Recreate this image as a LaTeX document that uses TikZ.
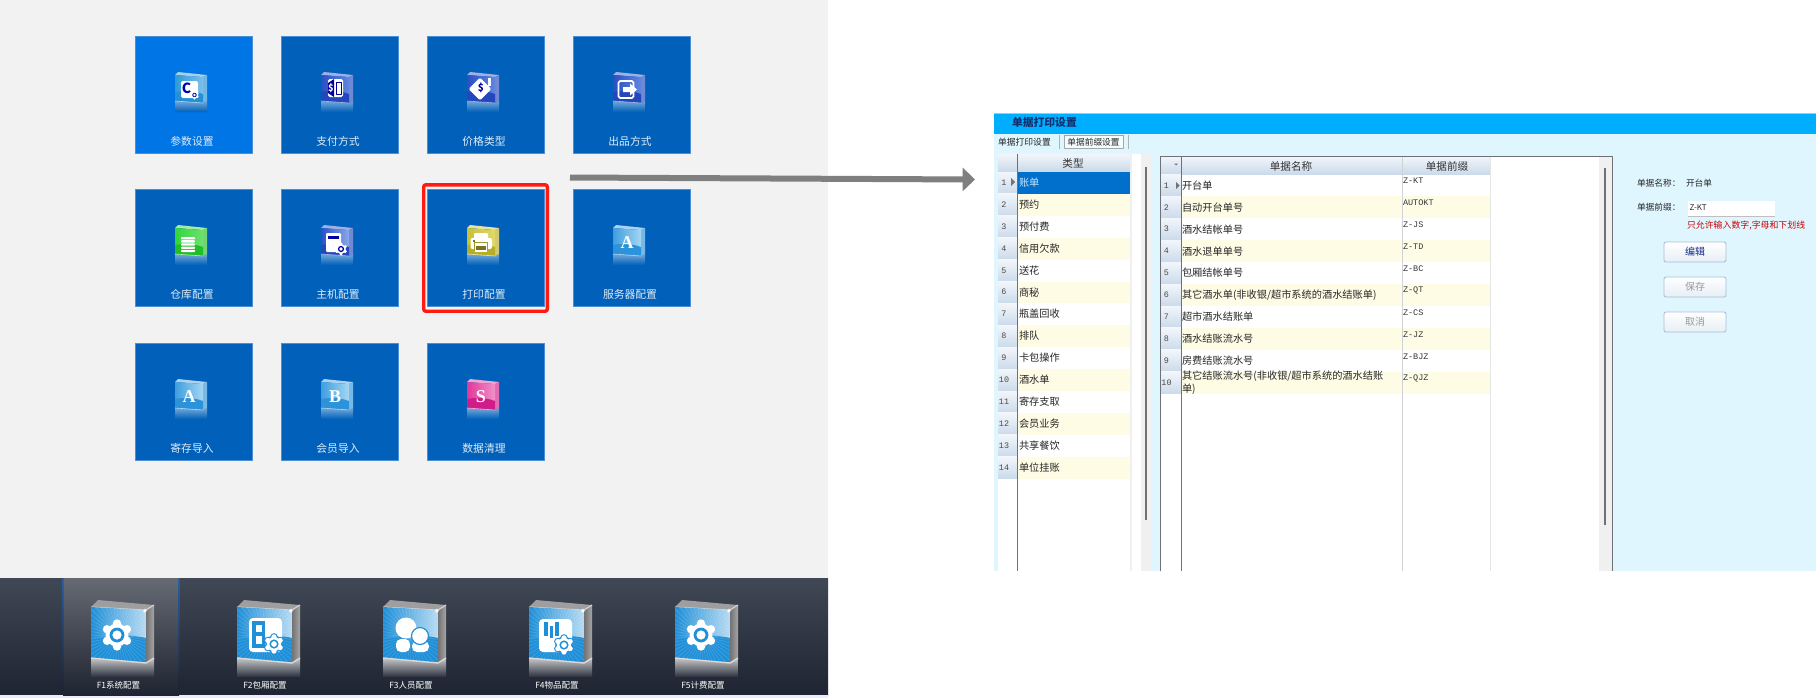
\documentclass[tikz,border=0pt]{standalone}
\usepackage{fontspec}
\setmainfont{Noto Sans CJK SC}
\newfontfamily\monof{Liberation Mono}
\newfontfamily\serf{Liberation Serif}
\usetikzlibrary{arrows.meta}
\definecolor{pagebg}{HTML}{F2F2F2}
\definecolor{tilefill}{HTML}{0060BA}
\definecolor{tileactive}{HTML}{0075E6}
\definecolor{tileedge}{HTML}{4A8FD6}
\definecolor{panelbg}{HTML}{DFF6FF}
\definecolor{titlebg}{HTML}{00AEFF}
\definecolor{cream}{HTML}{FFFCE6}
\definecolor{selblue}{HTML}{0070CC}
\definecolor{iconblue}{HTML}{1F8FD8}
\definecolor{bandtop}{HTML}{414855}
\definecolor{bandmid}{HTML}{2A303E}
\definecolor{bandbot}{HTML}{1E2431}
\definecolor{hilite}{HTML}{666A73}
\definecolor{hiedge}{HTML}{2A5FA5}
\definecolor{markred}{HTML}{FF1A12}
\definecolor{arrowgray}{HTML}{7F7F7F}
\definecolor{gridline}{HTML}{D0D3D6}
\definecolor{darkline}{HTML}{6E7276}
\definecolor{hdrtop}{HTML}{F2F6FB}
\definecolor{hdrbot}{HTML}{CBDAEA}
\definecolor{btnedge}{HTML}{A8BFD8}
\definecolor{btnbot}{HTML}{E6EEF5}
\definecolor{titletext}{HTML}{12306E}
\definecolor{navytext}{HTML}{1A2A8A}
\definecolor{icAa}{HTML}{2F9AD8}\definecolor{icAb}{HTML}{7CC0EA}\definecolor{icAc}{HTML}{2490D6}
\definecolor{icBa}{HTML}{2A4FC4}\definecolor{icBb}{HTML}{5F86E0}\definecolor{icBc}{HTML}{2448BC}\definecolor{icBd}{HTML}{8AA8EA}
\definecolor{icGa}{HTML}{30D638}\definecolor{icGb}{HTML}{6FE070}\definecolor{icGc}{HTML}{22BE2A}
\definecolor{icYa}{HTML}{C9C038}\definecolor{icYb}{HTML}{E0D868}\definecolor{icYc}{HTML}{B8AE26}
\definecolor{icSa}{HTML}{3F9EDF}\definecolor{icSb}{HTML}{A5D6F2}\definecolor{icSc}{HTML}{2C92DA}
\definecolor{icPa}{HTML}{E0389A}\definecolor{icPb}{HTML}{F090C8}\definecolor{icPc}{HTML}{D01C88}
\newcommand{\pxf}[1]{\fontsize{#1}{#1}\selectfont}
\tikzset{
  txt/.style={inner sep=0pt,outer sep=0pt},
  tilelabel/.style={txt,text=white!88!tilefill,font=\pxf{5.4}},
  biglabel/.style={txt,text=white,font=\pxf{4.25}},
  rowtext/.style={txt,anchor=west,text=black!85,font=\pxf{5.1},align=left},
  rownum/.style={txt,text=black!70,font=\monof\pxf{4.2}},
  prefixtext/.style={txt,anchor=west,text=black!80,font=\monof\pxf{4.25}},
  coltitle/.style={txt,text=black!80,font=\pxf{5.3}},
  formtext/.style={txt,anchor=west,text=black!85,font=\pxf{4.35}},
  btn/.style={draw=btnedge,rounded corners=1pt,line width=.45pt,top color=white,bottom color=btnbot},
  rowhead/.style={top color=hdrtop,bottom color=hdrbot},
}
% small tile: #1 colour, #2 name, #3 x, #4 y, #5 label
\newcommand{\tile}[5]{%
  \begin{scope}[shift={(#3,#4)}]
    \draw[fill=#1,draw=tileedge,line width=.3pt] (0,0) rectangle (117,117);
    \node[tilelabel] (#2) at (57,105) {#5};
  \end{scope}}
% small icon: #1 x, #2 y, #3 left colour, #4 right colour, #5 lower colour, #6 content
\newcommand{\smicon}[6]{%
  \begin{scope}[shift={(#1,#2)}]
    \shade[top color=white!45!tilefill,bottom color=tilefill] (40,65)--(68,67)--(72,65)--(72,76)--(40,76)--cycle;
    \fill[white!55!#3] (40,39)--(43,36)--(72,39)--(68,41)--cycle;
    \fill[white!35!#5] (68,41)--(72,39)--(72,65)--(68,67)--cycle;
    \shade[left color=#3,right color=#4] (40,39)--(68,41)--(68,67)--(40,65)--cycle;
    \fill[#5] (40,56)..controls (50,54) and (60,55)..(68,58)--(68,67)--(40,65)--cycle;
    \draw[white!60!#3,line width=.3pt] (40,65)--(68,67);
    #6
  \end{scope}}
\newcommand{\gearmark}[4]{% x y scale hole colour
  \begin{scope}[shift={(#1,#2)},scale=#3]
    \fill[white] (0,0) circle (11.5);
    \foreach \a in {30,90,...,330} {\fill[white] (\a:11.5) circle (4.2);}
    \fill[#4] (0,0) circle (7.4);
    \fill[white] (0,0) circle (4.6);
  \end{scope}}
% gear on a card: coloured halo, then the gear
\newcommand{\cardgear}[3]{%
  \begin{scope}[shift={(#1,#2)},scale=#3]
    \fill[iconblue] (0,0) circle (14);
    \foreach \a in {30,90,...,330} {\fill[iconblue] (\a:11.5) circle (6);}
  \end{scope}
  \gearmark{#1}{#2}{#3}{iconblue}}
% big icon: #1 x of the left edge, #2 content in coordinates of the F1 icon
\newcommand{\bigicon}[2]{%
  \begin{scope}[shift={(#1-91,0)}]
    \shade[top color=black!22!white,bottom color=bandmid] (91,658)--(146,663)--(154,658)--(154,677)--(91,677)--cycle;
    \fill[black!38!white] (91,607)--(98,600)--(154,605)--(146,610)--cycle;
    \shade[left color=black!55!white,right color=black!35!white] (146,610)--(154,605)--(154,658)--(146,663)--cycle;
    \draw[white!85!black,line width=.5pt] (91,607)--(146,610)--(154,605);
    \begin{scope}
      \clip (91,607)--(146,610)--(146,663)--(91,658)--cycle;
      \shade[left color=iconblue,right color=white!68!iconblue] (91,604) rectangle (146,640);
      \fill[iconblue] (91,640)..controls (108,635) and (130,634)..(146,638)--(146,665)--(91,665)--cycle;
      \foreach \a in {0,7,...,353} {\draw[white,opacity=.14,line width=.35pt] (119,636)--++(\a:50);}
    \end{scope}
    \draw[white!85!black,line width=.7pt] (91,658)--(146,663)--(154,658);
    \fill[white] (145,608.5)--(145.8,610)--(147.3,610.8)--(145.8,611.6)--(145,613)--(144.2,611.6)--(142.7,610.8)--(144.2,610)--cycle;
    #2
  \end{scope}}
\begin{document}
\begin{tikzpicture}[x=.5pt,y=-.5pt,line join=round]
\useasboundingbox (0,0) rectangle (1816,698);
\fill[white] (0,0) rectangle (1816,698);
% left screen
\fill[pagebg] (0,0) rectangle (828,578);
\shade[top color=bandtop,middle color=bandmid,bottom color=bandbot] (0,578) rectangle (828,695);
\fill[blue!8!white] (0,695) rectangle (828,698);
\shade[top color=hilite,bottom color=bandbot] (63,578) rectangle (179,695);
\shade[top color=hiedge,bottom color=bandbot] (62.7,578) rectangle (63.5,690);
\shade[top color=hiedge,bottom color=bandbot] (178.5,578) rectangle (179.3,690);
% tiles
\tile{tileactive}{tA}{135}{36}{参数设置}
\tile{tilefill}{tB}{281}{36}{支付方式}
\tile{tilefill}{tC}{427}{36}{价格类型}
\tile{tilefill}{tD}{573}{36}{出品方式}
\tile{tilefill}{tE}{135}{189}{仓库配置}
\tile{tilefill}{tF}{281}{189}{主机配置}
\tile{tilefill}{tG}{427}{189}{打印配置}
\tile{tilefill}{tH}{573}{189}{服务器配置}
\tile{tilefill}{tI}{135}{343}{寄存导入}
\tile{tilefill}{tJ}{281}{343}{会员导入}
\tile{tilefill}{tK}{427}{343}{数据清理}
% small icons
\smicon{135}{36}{icAa}{icAb}{icAc}{
  \fill[white,rounded corners=.8pt] (46,45) rectangle (63,62);
  \node[txt,text=blue!70!black,font=\bfseries\pxf{7}] (iconC) at (51.5,52) {C};
  \gearmark{59.5}{59}{.3}{blue!70!black}}
\smicon{281}{36}{icBa}{icBb}{icBc}{
  \fill[white,rounded corners=.8pt] (47,43) rectangle (62,61);
  \fill[blue!60!black] (47,47)--(53,43)--(53,61)--(47,57)--cycle;
  \node[txt,text=white,font=\bfseries\pxf{4.6}] (iconD) at (50,52) {\$};
  \draw[blue!60!black,line width=.5pt] (55,46) rectangle (60,58);}
\smicon{427}{36}{icBa}{icBb}{icBc}{
  \fill[white,rounded corners=.6pt,rotate around={45:(53,53)}] (45,45) rectangle (61,61);
  \fill[white] (61,42) rectangle (64,50);
  \node[txt,text=blue!65!black,font=\bfseries\pxf{5}] (iconE) at (54,52) {\$};}
\smicon{573}{36}{icBa}{icBb}{icBc}{
  \draw[white,line width=.9pt,rounded corners=.8pt] (45.5,45) rectangle (60.5,62);
  \fill[white] (50,51)--(57,51)--(57,47.5)--(64,53.5)--(57,59.5)--(57,56)--(50,56)--cycle;}
\smicon{135}{189}{icGa}{icGb}{icGc}{
  \foreach \yy in {48,51.2,54.4,57.6,60.8} {\fill[white,rounded corners=.4pt] (46,\yy) rectangle (60,\yy+2.3);}}
\smicon{281}{189}{icBa}{icBd}{icBc}{
  \fill[white,rounded corners=.6pt] (45,44) rectangle (60,63);
  \fill[blue!65!black] (47,47) rectangle (58,49.5);
  \gearmark{60}{60}{.42}{blue!65!black}}
\smicon{427}{189}{icYa}{icYb}{icYc}{
  \fill[white,rounded corners=.5pt] (47,44) rectangle (61,50);
  \fill[white,rounded corners=1pt] (43.5,49) rectangle (65,60);
  \fill[icYa!80!black] (47,53) rectangle (61,61);
  \fill[white] (48,54) rectangle (60,63);
  \fill[icYa!60!black] (49,56.5) rectangle (59,61);
  \fill[icYa!60!black] (45.5,51) rectangle (47.5,52.5);}
\smicon{573}{189}{icSa}{icSb}{icSc}{
  \node[txt,text=white,font=\serf\bfseries\pxf{9}] (iconA) at (54,54) {A};}
\smicon{135}{343}{icSa}{icSb}{icSc}{
  \node[txt,text=white,font=\serf\bfseries\pxf{9}] (iconI) at (54,54) {A};}
\smicon{281}{343}{icSa}{icSb}{icSc}{
  \node[txt,text=white,font=\serf\bfseries\pxf{9}] (iconJ) at (54,53.5) {B};}
\smicon{427}{343}{icPa}{icPb}{icPc}{
  \node[txt,text=white,font=\serf\bfseries\pxf{9}] (iconK) at (54,54) {S};}
% selection mark and arrow
\node[draw=markred,line width=1.7pt,rounded corners=1pt,minimum width=61.8pt,minimum height=63.2pt,inner sep=0pt] (printmark) at (485.5,248) {};
\coordinate (arrowfrom) at (570,177.5);
\coordinate (arrowto) at (975,179.5);
\draw[arrowgray,line width=3pt,-{Triangle[length=6.2pt,width=11.5pt]}] (arrowfrom)--(arrowto);
% bottom bar icons
\bigicon{91}{\gearmark{117}{635}{1}{iconblue}}
\bigicon{237}{
  \fill[white,rounded corners=2pt] (103,618) rectangle (136,652);
  \fill[iconblue] (106,621) rectangle (119,648);
  \fill[white] (110,624.5) rectangle (116,632);
  \fill[white] (110,636) rectangle (116,644);
  \cardgear{128}{644}{.62}}
\bigicon{383}{
  \fill[white,rounded corners=2.5pt] (104,639) rectangle (118,652);
  \fill[white] (114,628) circle (10.5);
  \fill[white,rounded corners=2.5pt] (120,641) rectangle (137,652);
  \draw[fill=white,draw=iconblue,line width=.6pt] (128,636) circle (8.5);}
\bigicon{529}{
  \fill[white,rounded corners=2pt] (101,619) rectangle (134,652);
  \fill[iconblue] (106,622) rectangle (109.5,636);
  \fill[iconblue] (112,626) rectangle (115,638);
  \fill[iconblue] (117,622) rectangle (120.5,636);
  \cardgear{126}{645}{.62}}
\bigicon{675}{\gearmark{117}{635}{1}{iconblue}}
\node[biglabel] (f1) at (118.5,685) {F1系统配置};
\node[biglabel] (f2) at (265,685) {F2包厢配置};
\node[biglabel] (f3) at (411,685) {F3人员配置};
\node[biglabel] (f4) at (557,685) {F4物品配置};
\node[biglabel] (f5) at (703,685) {F5计费配置};
% right window
\fill[panelbg] (994,134) rectangle (1816,571);
\fill[titlebg] (994,113) rectangle (1816,134);
\fill[black!25!white] (994,112.5) rectangle (1816,113.5);
\node[txt,anchor=west,text=titletext,font=\bfseries\pxf{5.4}] (wintitle) at (1012,122) {单据打印设置};
\node[txt,anchor=west,text=black!85,font=\pxf{4.4}] (tabA) at (998,142) {单据打印设置};
\draw[black!30!white,line width=.4pt] (1059,135)--(1059,149);
\node[draw=black!35!white,line width=.35pt,fill=white!70!panelbg,txt,minimum width=29.5pt,minimum height=6.8pt,text=black!85,font=\pxf{4.35}] (tabB) at (1093.5,142) {单据前缀设置};
\draw[black!30!white,line width=.4pt] (1128,135)--(1128,149);
% left table
\fill[white] (998,154) rectangle (1141,571);
\fill[black!6!white] (1141,154) rectangle (1152,571);
\fill[black!6!white] (1130,154) rectangle (1131.5,571);
\shade[rowhead] (998,154) rectangle (1130,171);
\node[coltitle] (typehead) at (1073,163) {类型};
\foreach \i/\t in {1/账单,2/预约,3/预付费,4/信用欠款,5/送花,6/商秘,7/瓶盖回收,8/排队,9/卡包操作,10/酒水单,11/寄存支取,12/会员业务,13/共享餐饮,14/单位挂账}{
  \pgfmathsetmacro{\yt}{172+(\i-1)*21.9}
  \pgfmathsetmacro{\yb}{\yt+21.9}
  \pgfmathsetmacro{\yc}{\yt+10.7}
  \pgfmathparse{int(mod(\i,2))}
  \ifnum\pgfmathresult=0 \fill[cream] (1018,\yt) rectangle (1130,\yb);\fi
  \ifnum\i=1 \fill[selblue] (1018,\yt) rectangle (1130,\yb);\fi
  \shade[rowhead] (998,\yt) rectangle (1017.5,\yb);
  \node[rownum] (ln\i) at (1004,\yc) {\i};
  \ifnum\i=1
    \node[rowtext,text=white!80!selblue] (lr\i) at (1019,\yc) {\t};
  \else
    \node[rowtext] (lr\i) at (1019,\yc) {\t};
  \fi
}
\fill[black!55!white] (1011,178)--(1015,182)--(1011,186)--cycle;
\draw[darkline,line width=.4pt] (1017.7,154)--(1017.7,571);
\draw[darkline,line width=.7pt] (1146,167)--(1146,520);
% right table
\fill[white] (1160,156) rectangle (1612,571);
\fill[black!6!white] (1599,156) rectangle (1612,571);
\shade[rowhead] (1160,156) rectangle (1490,174);
\fill[black!55!white] (1174,163.5)--(1178,163.5)--(1176,165.5)--cycle;
\node[coltitle] (namehead) at (1291,166) {单据名称};
\node[coltitle] (prefhead) at (1447,166) {单据前缀};
\foreach \i/\t/\p in {1/开台单/Z-KT,2/自动开台单号/AUTOKT,3/酒水结帐单号/Z-JS,4/酒水退单单号/Z-TD,5/包厢结帐单号/Z-BC,6/{其它酒水单(非收银/超市系统的酒水结账单)}/Z-QT,7/超市酒水结账单/Z-CS,8/酒水结账流水号/Z-JZ,9/房费结账流水号/Z-BJZ,10/{其它结账流水号(非收银/超市系统的酒水结账\\单)}/Z-QJZ}{
  \pgfmathsetmacro{\yt}{174.3+(\i-1)*21.95}
  \pgfmathsetmacro{\yb}{\yt+21.95}
  \pgfmathsetmacro{\yc}{\yt+11}
  \pgfmathsetmacro{\yp}{\yt+6.4}
  \pgfmathparse{int(mod(\i,2))}
  \ifnum\pgfmathresult=0 \fill[cream] (1181,\yt) rectangle (1490,\yb);\fi
  \shade[rowhead] (1160.5,\yt) rectangle (1181,\yb);
  \node[rownum] (rn\i) at (1166.5,\yc) {\i};
  \node[rowtext] (rr\i) at (1182,\yc) {\t};
  \node[prefixtext] (rp\i) at (1403,\yp) {\p};
}
\fill[black!55!white] (1176,182)--(1179.5,185.5)--(1176,189)--cycle;
\draw[gridline,line width=.4pt] (1402,156)--(1402,571);
\draw[black!10!white,line width=.4pt] (1490,156)--(1490,571);
\draw[darkline,line width=.4pt] (1181,156)--(1181,571);
\draw[darkline,line width=.5pt] (1160,571)--(1160,156)--(1612,156)--(1612,571);
\draw[darkline,line width=.7pt] (1605,168)--(1605,525);
% form
\node[formtext] (fname) at (1637,182.7) {单据名称：};
\node[formtext] (fnameval) at (1686,182.7) {开台单};
\node[formtext] (fpref) at (1637,206.7) {单据前缀：};
\fill[white] (1688,201) rectangle (1775,216);
\draw[black!25!white,line width=.4pt] (1688,216)--(1775,216);
\node[txt,anchor=west,text=black!85,font=\pxf{4}] (fprefval) at (1689.5,208) {Z-KT};
\node[txt,anchor=west,text=red!80!black,font=\pxf{4.45}] (fhint) at (1687,226) {只允许输入数字,字母和下划线};
\node[btn,txt,minimum width=31pt,minimum height=10pt,text=navytext,font=\pxf{5}] (bedit) at (1695,252) {编辑};
\node[btn,txt,minimum width=31pt,minimum height=10pt,text=black!40!white,font=\pxf{5}] (bsave) at (1695,287) {保存};
\node[btn,txt,minimum width=31pt,minimum height=10pt,text=black!40!white,font=\pxf{5}] (bcancel) at (1695,322) {取消};
\end{tikzpicture}
\end{document}
